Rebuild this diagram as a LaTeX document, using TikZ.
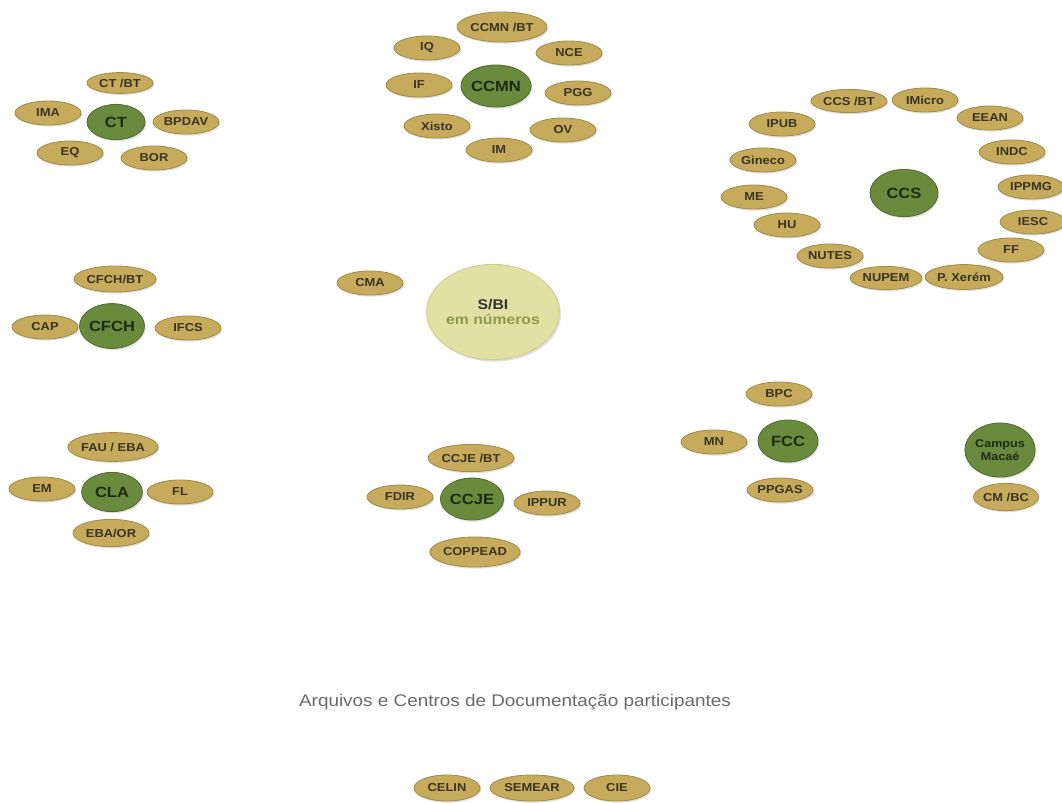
\documentclass[tikz,border=0pt]{standalone}
\usepackage{fontspec}
\setmainfont{Liberation Sans}[FakeStretch=1.12]
\usepackage{xcolor}
\usepackage{tikz}
\usetikzlibrary{positioning, shapes, shadows}

\definecolor{libfill}{HTML}{C6AB5C}
\definecolor{libedge}{HTML}{A48C45}
\definecolor{libtext}{HTML}{3B3422}
\definecolor{hubfill}{HTML}{6A8A3E}
\definecolor{hubedge}{HTML}{53702F}
\definecolor{hubtext}{HTML}{1E2A12}
\definecolor{sibifill}{HTML}{E2E1A4}
\definecolor{sibiedge}{HTML}{CFCD8E}
\definecolor{sibigreen}{HTML}{8C9A4C}
\definecolor{titlegray}{HTML}{6A6A6A}

\begin{document}
\begin{tikzpicture}[x=0.025cm, y=-0.025cm,
    every node/.style={inner sep=0pt},
    lib/.style={ellipse, fill=libfill, draw=libedge, line width=0.6pt,
      minimum width=1.65cm, minimum height=0.6cm, text=libtext,
      font=\bfseries\fontsize{8.2}{9}\selectfont,
      drop shadow={opacity=0.25, shadow xshift=0.03cm, shadow yshift=-0.04cm}},
    hub/.style={ellipse, fill=hubfill, draw=hubedge, line width=0.6pt,
      minimum width=1.58cm, minimum height=1.05cm, text=hubtext,
      font=\bfseries\fontsize{10.5}{12}\selectfont,
      drop shadow={opacity=0.25, shadow xshift=0.03cm, shadow yshift=-0.04cm}}]
      \clip (0,0) rectangle (1062,802);

      % CT
      \node[hub, minimum width=1.45cm, minimum height=0.88cm] (ct) at (116,122) {CT};
      \node[lib, minimum height=0.52cm] (ctbt) at (120,83) {CT /BT};
      \node[lib] (ima) at (48,113) {IMA};
      \node[lib] (bpdav) at (186,122) {BPDAV};
      \node[lib] (eq) at (70,153) {EQ};
      \node[lib] (bor) at (154,158) {BOR};

      % CCMN
      \node[hub, minimum width=1.62cm] (ccmn) at (496,86) {CCMN};
      \node[lib, minimum width=2.25cm, minimum height=0.75cm] (ccmnbt) at (502,27) {CCMN /BT};
      \node[lib] (iq) at (427,48) {IQ};
      \node[lib] (nce) at (569,53) {NCE};
      \node[lib] (if) at (419,85) {IF};
      \node[lib] (pgg) at (578,93) {PGG};
      \node[lib] (xisto) at (437,126) {Xisto};
      \node[lib] (ov) at (563,130) {OV};
      \node[lib] (im) at (499,150) {IM};

      % CCS
      \node[hub, minimum width=1.7cm, minimum height=1.18cm] (ccs) at (904,193) {CCS};
      \node[lib, minimum width=1.9cm, minimum height=0.58cm] (ccsbt) at (849,101) {CCS /BT};
      \node[lib] (imicro) at (925,100) {IMicro};
      \node[lib] (eean) at (990,118) {EEAN};
      \node[lib] (indc) at (1012,152) {INDC};
      \node[lib] (ippmg) at (1031,187) {IPPMG};
      \node[lib] (iesc) at (1033,222) {IESC};
      \node[lib] (ff) at (1011,250) {FF};
      \node[lib, minimum width=1.95cm, minimum height=0.62cm] (pxerem) at (964,277) {P. Xerém};
      \node[lib, minimum width=1.8cm, minimum height=0.58cm] (nupem) at (886,278) {NUPEM};
      \node[lib] (nutes) at (830,256) {NUTES};
      \node[lib] (hu) at (787,225) {HU};
      \node[lib] (me) at (754,197) {ME};
      \node[lib] (gineco) at (763,160) {Gineco};
      \node[lib] (ipub) at (782,124) {IPUB};

      % CFCH
      \node[hub, minimum width=1.58cm, minimum height=1.12cm] (cfch) at (112,326) {CFCH};
      \node[lib, minimum width=2.05cm, minimum height=0.65cm] (cfchbt) at (115,279) {CFCH/BT};
      \node[lib] (cap) at (45,327) {CAP};
      \node[lib] (ifcs) at (188,328) {IFCS};

      % SiBI
      \node[lib] (cma) at (370,283) {CMA};
      \node[ellipse, fill=sibifill, draw=sibiedge, line width=0.6pt,
        minimum width=3.32cm, minimum height=2.38cm, align=center,
        font=\bfseries\fontsize{10}{11}\selectfont,
        drop shadow={opacity=0.25, shadow xshift=0.04cm, shadow yshift=-0.05cm}]
        (sibi) at (493,312) {\textcolor{black!80}{S/BI}\\\textcolor{sibigreen}{em números}};

      % CLA
      \node[hub, minimum width=1.52cm, minimum height=0.98cm] (cla) at (112,492) {CLA};
      \node[lib, minimum width=2.15cm, minimum height=0.72cm] (fau) at (113,447) {FAU / EBA};
      \node[lib] (em) at (42,489) {EM};
      \node[lib] (fl) at (180,492) {FL};
      \node[lib, minimum width=1.9cm, minimum height=0.68cm] (ebaor) at (111,533) {EBA/OR};

      % CCJE
      \node[hub] (ccje) at (472,499) {CCJE};
      \node[lib, minimum width=2.15cm, minimum height=0.68cm] (ccjebt) at (471,458) {CCJE /BT};
      \node[lib] (fdir) at (400,497) {FDIR};
      \node[lib] (ippur) at (547,503) {IPPUR};
      \node[lib, minimum width=2.15cm, minimum height=0.75cm] (coppead) at (475,552) {COPPEAD};

      % FCC
      \node[hub, minimum width=1.5cm] (fcc) at (788,441) {FCC};
      \node[lib] (bpc) at (779,394) {BPC};
      \node[lib] (mn) at (714,442) {MN};
      \node[lib] (ppgas) at (780,490) {PPGAS};

      % Campus Macae
      \node[hub, minimum width=1.62cm, minimum height=1.35cm, align=center,
        font=\bfseries\fontsize{8}{9.5}\selectfont] (macae) at (1000,450) {Campus\\Macaé};
      \node[lib, minimum width=1.6cm, minimum height=0.68cm] (cmbc) at (1006,497) {CM /BC};

      % Archives
      \node[text=titlegray, font=\fontsize{12}{14}\selectfont] (arq) at (515,702)
        {Arquivos e Centros de Documentação participantes};
      \node[lib, minimum height=0.65cm] (celin) at (447,788) {CELIN};
      \node[lib, minimum width=2.1cm, minimum height=0.65cm] (semear) at (532,788) {SEMEAR};
      \node[lib, minimum height=0.65cm] (cie) at (617,788) {CIE};
    \end{tikzpicture}
\end{document}
